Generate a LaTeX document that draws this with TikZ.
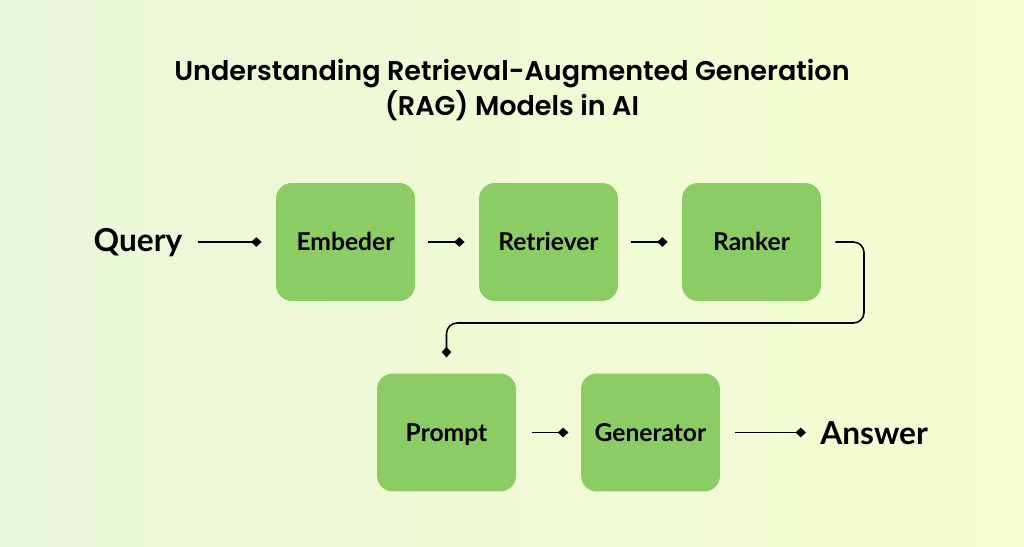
\documentclass[tikz,border=0pt]{standalone}
\usepackage{fontspec}
\setmainfont{Lato}
\newfontfamily\titlefont{Poppins}[BoldFont=Poppins SemiBold]
\usetikzlibrary{arrows.meta,positioning}
\definecolor{bgleft}{RGB}{234,247,216}
\definecolor{bgright}{RGB}{245,253,210}
\definecolor{boxgreen}{RGB}{139,204,100}
\tikzset{
	block/.style={fill=boxgreen,rounded corners=9pt,minimum width=2.78cm,minimum height=2.36cm,text height=10pt,text depth=0pt,font=\fontsize{14}{16}\selectfont\bfseries},
	tip/.style={-{Diamond[length=6pt,width=5.5pt]},line width=0.9pt},
	io/.style={font=\fontsize{18}{20}\selectfont\bfseries}
}
\begin{document}
\begin{tikzpicture}[x=0.02cm,y=-0.02cm]
	\shade[left color=bgleft,right color=bgright] (0,0) rectangle (1024,547);
	\useasboundingbox (0,0) rectangle (1024,547);
	\node[font=\titlefont\fontsize{15.4}{19.5}\selectfont\bfseries,align=center] (title) at (512,90) {Understanding Retrieval-Augmented Generation\\(RAG) Models in AI};
	\node[io] (query) at (138,243) {Query};
	\node[block] (emb) at (345.5,242) {Embeder};
	\node[block] (ret) at (548.5,242) {Retriever};
	\node[block] (rank) at (751.5,242) {Ranker};
	\node[block] (prompt) at (446.5,432.5) {Prompt};
	\node[block] (gen) at (650.5,432.5) {Generator};
	\node[io] (answer) at (874,433) {Answer};
	\draw[tip] (198,242) -- ([xshift=-8pt]emb.west);
	\draw[tip] ([xshift=7.4pt]emb.east) -- ([xshift=-8pt]ret.west);
	\draw[tip] ([xshift=7.4pt]ret.east) -- ([xshift=-8pt]rank.west);
	\draw[tip,rounded corners=6pt] ([xshift=8pt]rank.east) -| (864,323) -| ([yshift=9pt]prompt.north);
	\draw[tip] ([xshift=9pt]prompt.east) -- ([xshift=-7pt]gen.west);
	\draw[tip] ([xshift=8.5pt]gen.east) -- (806,432.5);
\end{tikzpicture}
\end{document}
